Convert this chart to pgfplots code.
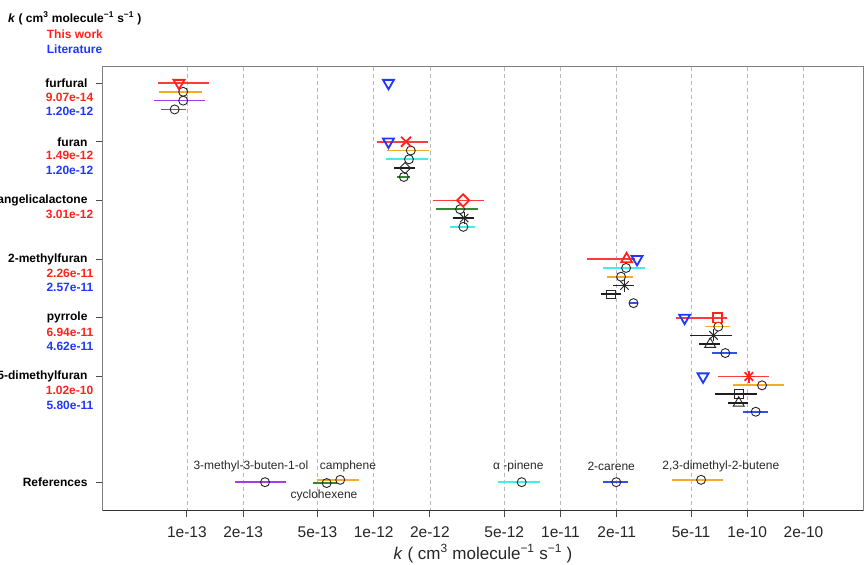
\documentclass[border=0pt]{standalone}
\usepackage{fontspec}
\setmainfont{Liberation Sans}
\usepackage{pgfplots}
\pgfplotsset{compat=1.18}
\definecolor{myred}{RGB}{255,35,30}
\definecolor{myblue}{RGB}{30,55,255}
\definecolor{segred}{RGB}{255,60,60}
\definecolor{segorange}{RGB}{245,170,40}
\definecolor{segpurple}{RGB}{165,60,230}
\definecolor{seggreen}{RGB}{55,135,55}
\definecolor{segcyan}{RGB}{70,235,235}
\definecolor{segblue}{RGB}{50,80,235}
\definecolor{segblack}{RGB}{30,30,30}
\definecolor{txtgray}{RGB}{40,40,40}

\newcommand{\seg}[4]{\addplot[color=#1, line width=1.7bp, forget plot] coordinates {(#2,#4) (#3,#4)};}
\newcommand{\mk}[3]{\addplot[#1, only marks, forget plot] coordinates {(#2,#3)};}
\newcommand{\ask}[4]{\mk{#1, mark=+, mark size=#4}{#2}{#3}\mk{#1, mark=x, mark size=#4}{#2}{#3}}

\pgfplotsset{
  circ/.style={black!85, mark=o, mark size=4.5bp, mark options={line width=0.9bp}},
  bsq/.style={black!85, mark=square, mark size=4.3bp, mark options={line width=0.9bp}},
  btri/.style={black!85, mark=triangle, mark size=6.3bp, mark options={line width=0.9bp}},
  bdia/.style={black!85, mark=square, mark size=4bp, mark options={rotate=45, line width=0.9bp}},
  rtridown/.style={myred, mark=triangle, mark size=6.3bp, mark options={rotate=180, line width=1.8bp}},
  rtri/.style={myred, mark=triangle, mark size=6.3bp, mark options={line width=1.8bp}},
  rsq/.style={myred, mark=square, mark size=4.6bp, mark options={line width=1.8bp}},
  rdia/.style={myred, mark=square, mark size=4.3bp, mark options={rotate=45, line width=1.8bp}},
  rx/.style={myred, mark=x, mark size=7bp, mark options={line width=1.8bp}},
  btridown/.style={myblue, mark=triangle, mark size=6.3bp, mark options={rotate=180, line width=1.8bp}},
}
\def\xmn{3.54e-14}
\newcommand{\vals}[3]{%
  \node[anchor=east, inner sep=0pt, text=myred, font=\bfseries\fontsize{12bp}{14bp}\selectfont, xshift=-9.2bp] at (axis cs:\xmn,#1+0.24) {#2};%
  \node[anchor=east, inner sep=0pt, text=myblue, font=\bfseries\fontsize{12bp}{14bp}\selectfont, xshift=-9.2bp] at (axis cs:\xmn,#1+0.485) {#3};}

\begin{document}
\begin{tikzpicture}
\begin{axis}[
  scale only axis, width=760.6bp, height=443.3bp,
  xmode=log, log basis x=10,
  xmin=3.54e-14, xmax=4.18e-10,
  ymin=-0.278, ymax=7.274, y dir=reverse,
  xtick={1e-13,2e-13,5e-13,1e-12,2e-12,5e-12,1e-11,2e-11,5e-11,1e-10,2e-10},
  xticklabels={1e-13,2e-13,5e-13,1e-12,2e-12,5e-12,1e-11,2e-11,5e-11,1e-10,2e-10},
  minor x tick num=0,
  ytick={0,1,2,3,4,5,6.8},
  yticklabels={furfural,furan,angelicalactone,2-methylfuran,pyrrole,{2,5-dimethylfuran},References},
  tick align=outside, major tick length=7bp,
  xtick pos=bottom, ytick pos=left,
  xmajorgrids,
  grid style={gray!55, dash pattern=on 4bp off 3bp, line width=0.8bp},
  axis line style={black!50, line width=0.9bp},
  tick style={black!70, line width=0.9bp},
  xticklabel style={font=\fontsize{15.5bp}{17bp}\selectfont, text=black!85, yshift=-6bp},
  yticklabel style={font=\bfseries\fontsize{12bp}{14bp}\selectfont, text=black, inner sep=0pt, xshift=-8bp},
  xlabel={\textit{k} ( cm\textsuperscript{3} molecule\textsuperscript{−1} s\textsuperscript{−1} )},
  xlabel style={font=\fontsize{17bp}{19bp}\selectfont, text=black!85, at={(axis description cs:0.5,0)}, anchor=base, yshift=-49bp},
  clip=false,
]
\draw[black!80, line width=1bp] (axis description cs:0,0) -- (axis description cs:1,0);

% ---------- furfural (row 0)
\seg{segred}{7.0e-14}{1.31e-13}{0}
\seg{segorange}{7.1e-14}{1.2e-13}{0.15}
\seg{segpurple}{6.7e-14}{1.25e-13}{0.30}
\seg{seggreen}{7.3e-14}{9.9e-14}{0.45}
\mk{circ}{9.55e-14}{0.15}
\mk{circ}{9.55e-14}{0.30}
\mk{circ}{8.6e-14}{0.45}
\mk{rtridown}{9.07e-14}{0}
\mk{btridown}{1.20e-12}{0}

% ---------- furan (row 1)
\seg{segred}{1.045e-12}{1.945e-12}{1}
\seg{segorange}{1.18e-12}{1.99e-12}{1.15}
\seg{segcyan}{1.16e-12}{1.945e-12}{1.30}
\seg{segblack}{1.29e-12}{1.67e-12}{1.45}
\seg{seggreen}{1.34e-12}{1.56e-12}{1.60}
\mk{circ}{1.58e-12}{1.15}
\mk{circ}{1.545e-12}{1.30}
\mk{bdia}{1.47e-12}{1.45}
\mk{circ}{1.45e-12}{1.60}
\mk{rx}{1.49e-12}{1}
\mk{btridown}{1.20e-12}{1}

% ---------- angelicalactone (row 2)
\seg{segred}{2.085e-12}{3.91e-12}{2}
\seg{seggreen}{2.16e-12}{3.6e-12}{2.15}
\seg{segblack}{2.65e-12}{3.44e-12}{2.30}
\seg{segcyan}{2.56e-12}{3.5e-12}{2.45}
\mk{circ}{2.9e-12}{2.15}
\ask{black!85, mark options={line width=0.9bp}}{3.05e-12}{2.30}{6bp}
\mk{circ}{3.02e-12}{2.45}
\mk{rdia}{3.01e-12}{2}

% ---------- 2-methylfuran (row 3)
\seg{segred}{1.39e-11}{2.5e-11}{3}
\seg{segcyan}{1.69e-11}{2.85e-11}{3.15}
\seg{segorange}{1.78e-11}{2.44e-11}{3.30}
\seg{segblack}{1.92e-11}{2.49e-11}{3.45}
\seg{segblack}{1.64e-11}{2.11e-11}{3.60}
\seg{segblue}{2.34e-11}{2.59e-11}{3.75}
\mk{circ}{2.245e-11}{3.15}
\mk{circ}{2.11e-11}{3.30}
\ask{black!85, mark options={line width=0.9bp}}{2.2e-11}{3.45}{6bp}
\mk{bsq}{1.87e-11}{3.60}
\mk{circ}{2.46e-11}{3.75}
\mk{rtri}{2.26e-11}{3}
\mk{btridown}{2.57e-11}{3}

% ---------- pyrrole (row 4)
\seg{segred}{4.16e-11}{7.78e-11}{4}
\seg{segorange}{5.97e-11}{8.1e-11}{4.15}
\seg{segblack}{4.94e-11}{8.26e-11}{4.30}
\seg{segblack}{5.55e-11}{7.16e-11}{4.45}
\seg{segblue}{6.49e-11}{8.8e-11}{4.60}
\mk{circ}{7.0e-11}{4.15}
\ask{black!85, mark options={line width=0.9bp}}{6.6e-11}{4.30}{6bp}
\mk{btri}{6.33e-11}{4.45}
\mk{circ}{7.63e-11}{4.60}
\mk{rsq}{6.94e-11}{4}
\mk{btridown}{4.62e-11}{4}

% ---------- 2,5-dimethylfuran (row 5)
\seg{segred}{6.93e-11}{1.3e-10}{5}
\seg{segorange}{8.37e-11}{1.57e-10}{5.15}
\seg{segblack}{6.73e-11}{1.125e-10}{5.30}
\seg{segblack}{7.87e-11}{1.01e-10}{5.45}
\seg{segblue}{9.46e-11}{1.29e-10}{5.60}
\mk{circ}{1.2e-10}{5.15}
\mk{bsq}{9.0e-11}{5.30}
\mk{btri}{9.0e-11}{5.45}
\mk{circ}{1.11e-10}{5.60}
\ask{myred, mark options={line width=1.8bp}}{1.02e-10}{5}{6bp}
\mk{btridown}{5.80e-11}{5}

% ---------- References (row 6.8)
\seg{segpurple}{1.82e-13}{3.39e-13}{6.80}
\seg{segorange}{4.95e-13}{8.34e-13}{6.76}
\seg{seggreen}{4.75e-13}{6.34e-13}{6.815}
\seg{segcyan}{4.65e-12}{7.78e-12}{6.80}
\seg{segblue}{1.69e-11}{2.31e-11}{6.80}
\seg{segorange}{3.96e-11}{7.4e-11}{6.76}
\mk{circ}{2.62e-13}{6.80}
\mk{circ}{6.62e-13}{6.76}
\mk{circ}{5.6e-13}{6.815}
\mk{circ}{6.2e-12}{6.80}
\mk{circ}{1.99e-11}{6.80}
\mk{circ}{5.66e-11}{6.76}

\begin{scope}[every node/.style={font=\fontsize{12bp}{14bp}\selectfont, text=txtgray, inner sep=0pt}]
\node at (axis cs:2.2e-13,6.53) {3-methyl-3-buten-1-ol};
\node at (axis cs:7.28e-13,6.53) {camphene};
\node at (axis cs:5.42e-13,7.03) {cyclohexene};
\node at (axis cs:5.95e-12,6.53) {α -pinene};
\node at (axis cs:1.87e-11,6.53) {2-carene};
\node at (axis cs:7.22e-11,6.53) {2,3-dimethyl-2-butene};
\end{scope}

% ---------- value labels
\vals{0}{9.07e-14}{1.20e-12}
\vals{1}{1.49e-12}{1.20e-12}
\node[anchor=east, inner sep=0pt, text=myred, font=\bfseries\fontsize{12bp}{14bp}\selectfont, xshift=-9.2bp] at (axis cs:\xmn,2.24) {3.01e-12};
\vals{3}{2.26e-11}{2.57e-11}
\vals{4}{6.94e-11}{4.62e-11}
\vals{5}{1.02e-10}{5.80e-11}

% ---------- header
\node[anchor=west, inner sep=0pt, font=\bfseries\fontsize{12bp}{14bp}\selectfont] at ([xshift=-94.7bp,yshift=48.5bp]axis description cs:0,1) {\textit{k} ( cm\textsuperscript{3} molecule\textsuperscript{−1} s\textsuperscript{−1} )};
\node[anchor=west, inner sep=0pt, text=myred, font=\bfseries\fontsize{12bp}{14bp}\selectfont] at ([xshift=-56bp,yshift=32.2bp]axis description cs:0,1) {This work};
\node[anchor=west, inner sep=0pt, text=myblue, font=\bfseries\fontsize{12bp}{14bp}\selectfont] at ([xshift=-56bp,yshift=17.2bp]axis description cs:0,1) {Literature};

\coordinate (SW) at (axis description cs:0,0);
\coordinate (NE) at (axis description cs:1,1);
\end{axis}
\pgfresetboundingbox
\path[use as bounding box] ([xshift=-102.7bp,yshift=-55bp]SW) rectangle ([xshift=0.7bp,yshift=66.7bp]NE);
\end{tikzpicture}
\end{document}
